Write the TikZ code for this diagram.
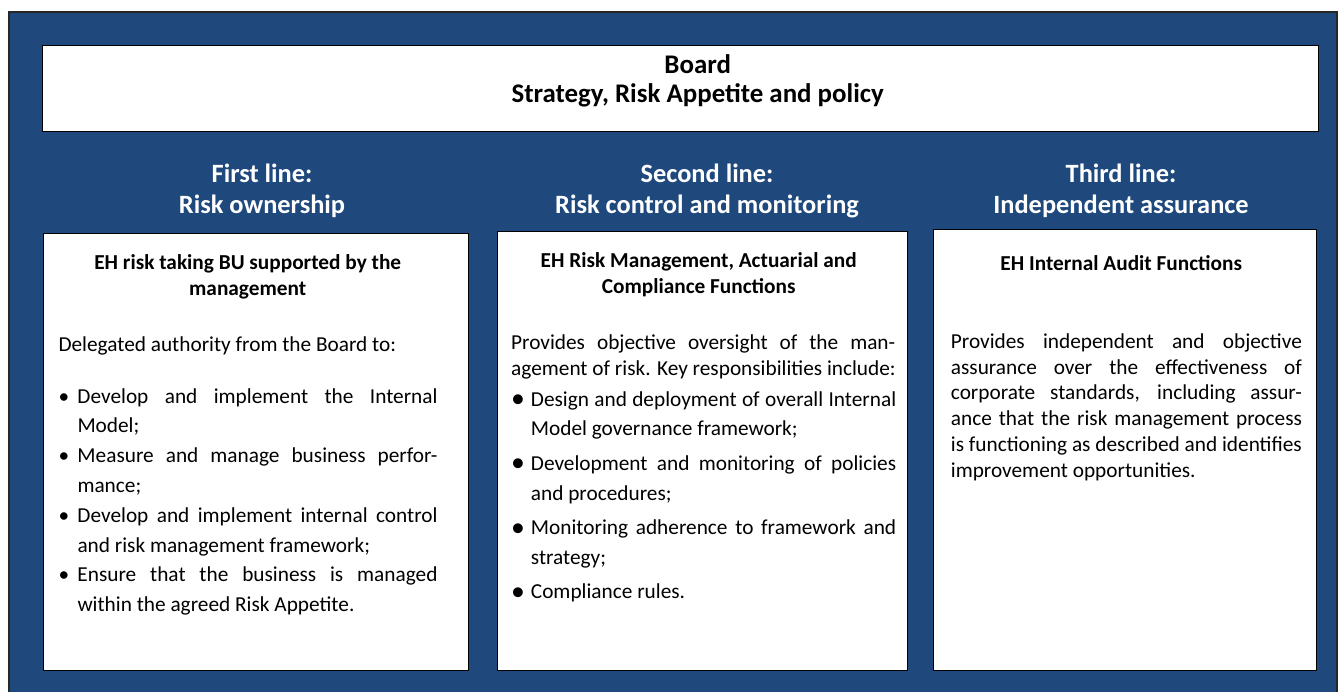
\documentclass[tikz,border=0pt]{standalone}
\usepackage{fontspec}
\setmainfont{Carlito}
\usepackage{graphicx}
\usetikzlibrary{positioning}
\definecolor{EHBlue}{RGB}{31,73,125}
\definecolor{FrameGrey}{RGB}{38,38,38}
\newcommand{\jline}[2]{\makebox[#1][s]{#2}}
\newcommand{\smallbul}{\makebox[19pt][l]{\textbullet}}
\newcommand{\bigbul}{\makebox[19.7pt][l]{\raisebox{-1.5pt}{\scalebox{1.3}{\textbullet}}}}
% plain word spaces (align=left would fix them to .3333em)
\newcommand{\wordspace}{\spaceskip=0pt\xspaceskip=0pt\relax}

\begin{document}
\begin{tikzpicture}[
          x=1pt, y=-1pt,
          panel/.style={rectangle, draw=black, line width=1.4pt, fill=white, anchor=north west, inner sep=0pt},
          boardtext/.style={anchor=north, inner sep=0pt, align=center, font=\bfseries\fontsize{26.9}{29}\selectfont},
          linehead/.style={anchor=north, inner sep=0pt, align=center, text=white, font=\bfseries\fontsize{26.4}{31}\selectfont},
          paneltitle/.style={anchor=north, inner sep=0pt, align=center, font=\bfseries\fontsize{21.3}{26}\selectfont},
          panelbody/.style={anchor=north west, inner sep=0pt, align=left, font=\fontsize{21.3}{29.8}\selectfont}
        ]
          \useasboundingbox (0,0) rectangle (1338,691);
          \fill[white] (0,0) rectangle (1338,691);
          \draw[FrameGrey, line width=2pt, fill=EHBlue] (9,12) rectangle (1336.5,700);

          % board
          \node (board) [panel, minimum width=1276pt, minimum height=86pt] at (42,45) {};
          \node (boardlbl) [boardtext, below=7.7pt of board.north, xshift=17pt] {\strut Board\\Strategy, Risk Appetite and policy};

          % three lines of defence
          \node (firsthead) [linehead] at (262,160.3) {\strut First line:\\Risk ownership};
          \node (secondhead) [linehead] at (707,160.3) {\strut Second line:\\Risk control and monitoring};
          \node (thirdhead) [linehead] at (1121,160.3) {\strut Third line:\\Independent assurance};

          \node (risktake) [panel, minimum width=425pt, minimum height=437pt] at (43,233) {};
          \node (riskctrl) [panel, minimum width=410pt, minimum height=439pt] at (497,231) {};
          \node (audit) [panel, minimum width=383pt, minimum height=441pt] at (933,229) {};

          \node (risktakettl) [paneltitle, below=17.8pt of risktake.north, xshift=-8.5pt] {\strut EH risk taking BU supported by the\\management};
          \node (riskctrlttl) [paneltitle, below=17.8pt of riskctrl.north, xshift=-4pt] {\strut EH Risk Management, Actuarial and\\Compliance Functions};
          \node (auditttl) [paneltitle, below=22.8pt of audit.north, xshift=-4pt] {\strut EH Internal Audit Functions};

          \node (risktakebody) [panelbody, text width=380pt, below right=97.1pt and 15.3pt of risktake.north west] {\wordspace\strut Delegated authority from the Board to:\\[22.2pt]
            \smallbul\jline{360pt}{Develop and implement the Internal}\\
            \hspace*{19pt}Model;\\
            \smallbul\jline{360pt}{Measure and manage business perfor-}\\
            \hspace*{19pt}mance;\\
            \smallbul\jline{360pt}{Develop and implement internal control}\\
            \hspace*{19pt}and risk management framework;\\
            \smallbul\jline{360pt}{Ensure that the business is managed}\\
            \hspace*{19pt}within the agreed Risk Appetite.};

          \node (riskctrlbody) [panelbody, text width=388pt, font=\fontsize{21.3}{29.7}\selectfont, below right=97.5pt and 14pt of riskctrl.north west] {\wordspace\strut\jline{384pt}{Provides objective oversight of the man-}\\[-3.3pt]
            agement of risk. Key responsibilities include:\\[0.6pt]
            \bigbul\jline{365.3pt}{Design and deployment of overall Internal}\\
            \hspace*{19.7pt}Model governance framework;\\[4.8pt]
            \bigbul\jline{365.3pt}{Development and monitoring of policies}\\
            \hspace*{19.7pt}and procedures;\\[4.8pt]
            \bigbul\jline{365.3pt}{Monitoring adherence to framework and}\\
            \hspace*{19.7pt}strategy;\\[4.8pt]
            \bigbul Compliance rules.};

          \node (auditbody) [panelbody, text width=352pt, font=\fontsize{21.3}{25.8}\selectfont, below right=101pt and 17.7pt of audit.north west] {\wordspace\strut\jline{351pt}{Provides independent and objective}\\
            \jline{351pt}{assurance over the effectiveness of}\\
            \jline{351pt}{corporate standards, including assur-}\\
            \jline{351pt}{ance that the risk management process}\\
            \jline{351pt}{is functioning as described and identifies}\\
            improvement opportunities.};
        \end{tikzpicture}
\end{document}
